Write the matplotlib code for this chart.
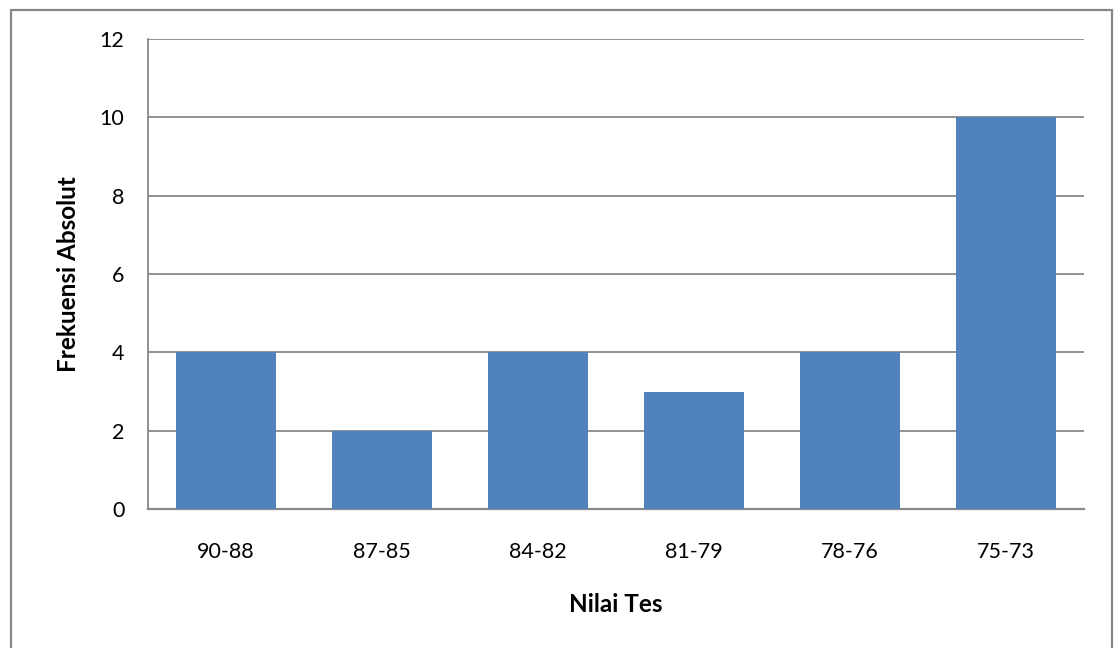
import matplotlib
matplotlib.use("Agg")
import matplotlib.pyplot as plt
from matplotlib.patches import Rectangle

categories = ["90-88", "87-85", "84-82", "81-79", "78-76", "75-73"]
frequencies = [4, 2, 4, 3, 4, 10]
y_ticks = [0, 2, 4, 6, 8, 10, 12]

W, H = 1114, 648
plt.rcParams["font.family"] = ["Lato", "DejaVu Sans"]

fig = plt.figure(figsize=(W / 100, H / 100), dpi=100)
fig.patch.set_facecolor("white")

# chart-area frame (open at the bottom edge)
fig.patches.append(Rectangle((11 / W, -0.05), (1112 - 11) / W, 1.05 - 10 / H,
                             transform=fig.transFigure, fill=False,
                             edgecolor="#878787", linewidth=1.6, zorder=0))

left, right, top, bottom = 148, 1084, 39, 509
ax = fig.add_axes([left / W, 1 - bottom / H, (right - left) / W, (bottom - top) / H])

x = range(len(categories))
ax.bar(x, frequencies, width=0.64, color="#4F81BD", zorder=3)

ax.set_xlim(-0.5, len(categories) - 0.5)
ax.set_ylim(0, 12)
ax.set_yticks(y_ticks)
ax.set_yticklabels([str(v) for v in y_ticks], fontsize=15.5)
ax.set_xticks(list(x))
ax.set_xticklabels(categories, fontsize=15.5)

ax.yaxis.grid(True, color="#888888", linewidth=1.3, zorder=0)
ax.set_axisbelow(True)

for s in ["top", "right"]:
    ax.spines[s].set_visible(False)
ax.spines["left"].set_color("#888888")
ax.spines["bottom"].set_color("#888888")
ax.spines["left"].set_linewidth(1.3)
ax.spines["bottom"].set_linewidth(1.6)

ax.tick_params(axis="y", length=0, pad=17)
ax.tick_params(axis="x", length=0, pad=24)

ax.set_ylabel("Frekuensi Absolut", fontsize=17.5, fontweight="bold", labelpad=14)
ax.set_xlabel("Nilai Tes", fontsize=17.5, fontweight="bold", labelpad=22)

fig.savefig("out.png", dpi=100)
